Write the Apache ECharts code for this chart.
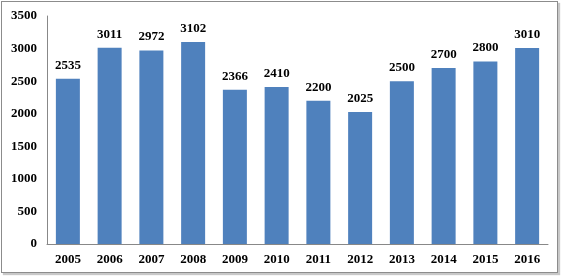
<!DOCTYPE html>
<html><head><meta charset="utf-8">
<script src="https://cdn.jsdelivr.net/npm/echarts@6/dist/echarts.min.js"></script>
<style>
html,body{margin:0;padding:0;background:#fff;}
#frame{position:absolute;left:1px;top:1px;width:555px;height:270px;border:1px solid #8c8c8c;box-shadow:2px 2px 1px #c8c8c8;}
#c{position:absolute;left:0;top:0;width:561px;height:277px;}
</style></head>
<body>
<div id="frame"></div>
<div id="c"></div>
<script>
const years = ['2005','2006','2007','2008','2009','2010','2011','2012','2013','2014','2015','2016'];
const values = [2535,3011,2972,3102,2366,2410,2200,2025,2500,2700,2800,3010];
const yTicks = [0,500,1000,1500,2000,2500,3000,3500];

const chart = echarts.init(document.getElementById('c'), null, {renderer:'canvas'});
const font = {fontFamily:'Liberation Serif', fontWeight:'bold', fontSize:13, color:'#000'};
chart.setOption({
  animation:false,
  grid:{left:47,right:13,top:16,bottom:33},
  xAxis:{type:'category',data:years,
    axisLine:{lineStyle:{color:'#888',width:1}},
    axisTick:{show:false},
    axisLabel:Object.assign({margin:9},font)},
  yAxis:{type:'value',min:yTicks[0],max:yTicks[yTicks.length-1],interval:500,
    axisLine:{show:true,lineStyle:{color:'#888',width:1}},
    axisTick:{show:false},
    splitLine:{show:false},
    axisLabel:Object.assign({margin:10,formatter:v=>String(v)},font)},
  series:[{type:'bar',data:values,barWidth:24,
    itemStyle:{color:'#4F81BD'},
    label:{show:true,position:'top',distance:7,fontFamily:'Liberation Serif',fontWeight:'bold',fontSize:13,color:'#000'}}]
});
</script>
</body></html>
